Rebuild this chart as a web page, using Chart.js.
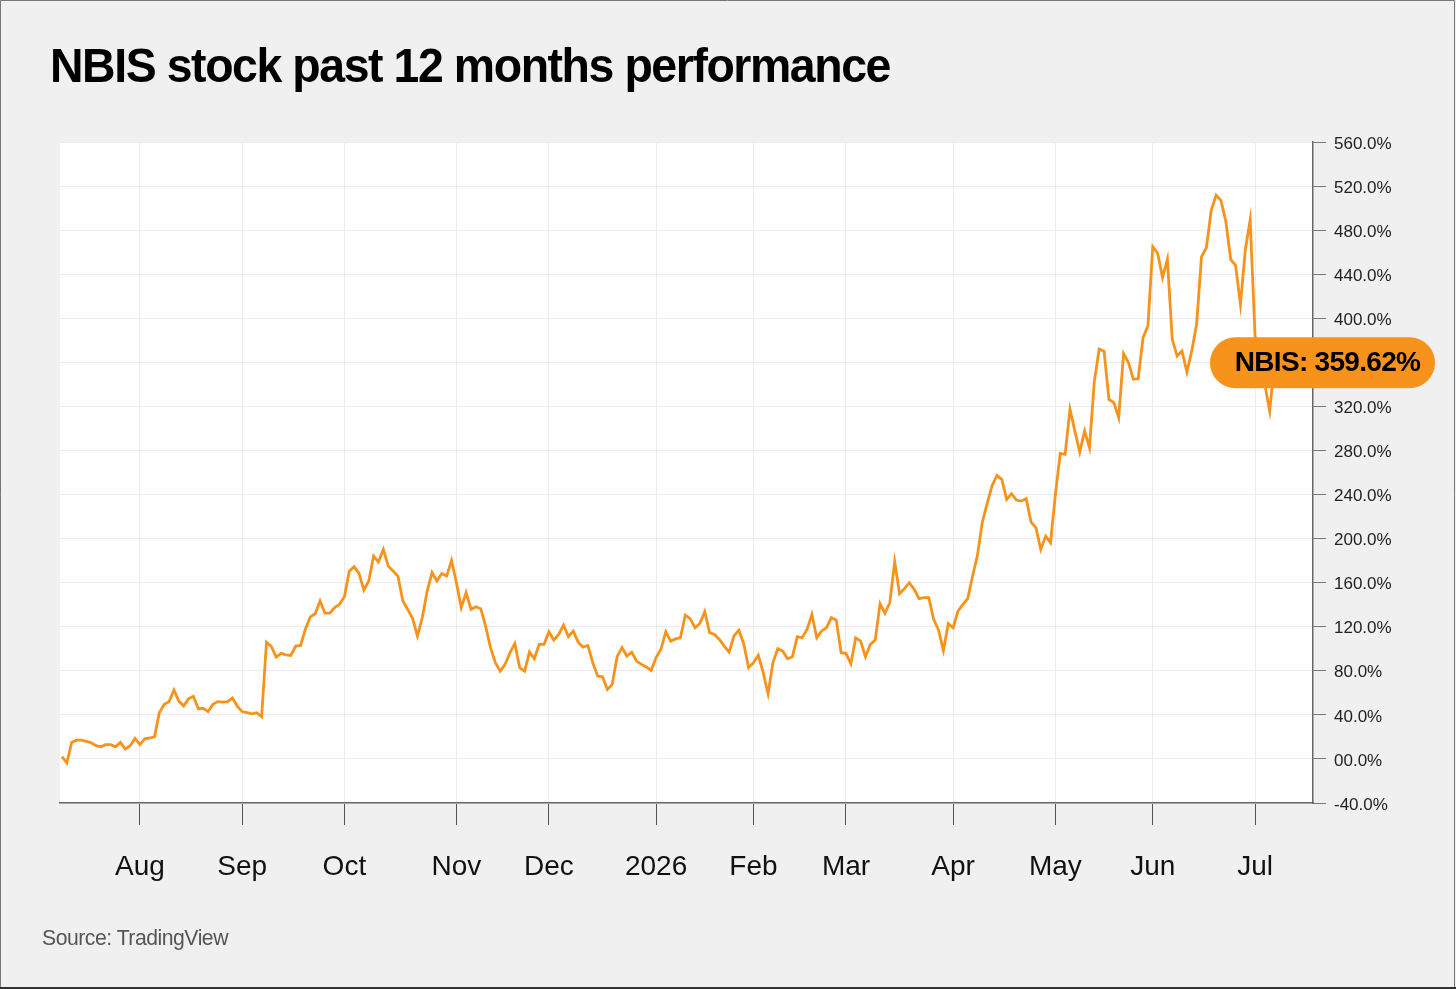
<!DOCTYPE html>
<html>
<head>
<meta charset="utf-8">
<script src="https://cdn.jsdelivr.net/npm/chart.js@4.4.1/dist/chart.umd.min.js"></script>
<style>
  html, body { margin: 0; padding: 0; background: #f0f0f0; }
  #wrap { position: relative; width: 1456px; height: 989px; overflow: hidden; }
  #title {
    position: absolute; left: 50px; top: 41px;
    font: bold 49px/49px "Liberation Sans", Arial, sans-serif;
    color: #000; white-space: nowrap; transform-origin: left top; letter-spacing: -1.5px;
  }
  #source {
    position: absolute; left: 42px; top: 927px;
    font: 22px/22px "Liberation Sans", Arial, sans-serif;
    color: #555; white-space: nowrap; transform-origin: left top; letter-spacing: -0.5px;
  }
  canvas { position: absolute; left: 0; top: 0; }
</style>
</head>
<body>
<div id="wrap">
  <canvas id="chart" width="1456" height="989"></canvas>
  <div id="title">NBIS stock past 12 months performance</div>
  <div id="source">Source: TradingView</div>
</div>
<script>
// one value per trading day, % change since start
const perf = [
  2, -3.5, 15, 17, 17, 16, 14.7, 12, 11, 13,
  13, 11, 15, 9, 12, 18.6, 13, 18.3, 19, 20,
  42, 49.5, 52, 62.5, 52.5, 48, 54.7, 56.8, 45.6, 46,
  43, 49.5, 52, 51.5, 52, 55.2, 48, 43, 42, 41,
  42, 38.3, 106, 102, 92.5, 95.8, 94.5, 94, 102.4, 103,
  118, 129, 131.8, 143.3, 132.3, 132.3, 137.3, 140.3, 147.3, 170.5,
  174.5, 168.4, 153.3, 161.5, 184.2, 178.7, 190.2, 175, 170.5, 166,
  143.3, 135.7, 127.6, 111.5, 128.4, 152.4, 169.2, 161.5, 168.3, 166,
  180.2, 160, 137.3, 151, 135.8, 138.2, 136.4, 120.6, 101, 87.4,
  79.7, 85.8, 96.4, 104.9, 82.8, 79.7, 97, 91, 104, 104,
  115.5, 107.9, 113, 121.5, 111, 116, 106, 101.5, 103, 87.4,
  75.2, 74.6, 63, 67.6, 92.8, 101, 93.4, 97, 88.8, 85.8,
  83.4, 80.4, 92, 99.5, 115.5, 107, 109, 110, 130.6, 127.3,
  119.1, 123, 133.7, 114.6, 113, 108.5, 102.4, 97, 111.7, 116.8,
  104.6, 82.8, 87.4, 94, 78.3, 59.2, 87.4, 100, 97.9, 91,
  92.8, 111, 110, 117.6, 131.2, 110, 116.2, 119.1, 128.2, 126,
  96.4, 95.8, 86.4, 110, 107, 92.8, 104, 107.9, 141, 132.2,
  141.8, 179, 150, 154.6, 160, 154, 145.5, 146.4, 146.4, 126.7,
  117, 98.5, 122.8, 119.1, 134.2, 140.3, 145.5, 166, 185, 215,
  232, 248, 257.4, 253.8, 235.6, 240.8, 235, 234, 236.3, 215,
  209.9, 190.2, 202.3, 196.3, 240, 277.4, 276.5, 317.4, 297.6, 278.6,
  297.6, 282.6, 343, 372, 370, 326.4, 323.4, 309.8, 368, 359.8,
  344.6, 345.2, 382.4, 393, 465, 459, 436.9, 453.5, 380.9, 365.7,
  370.3, 351.2, 370.3, 394.6, 455.7, 464, 498, 511.7, 507, 488,
  453.5, 448, 412.7, 462, 489.4, 384, 365, 340, 315.8, 359.62
];

// trading-day index of the first session of each month
const monthTicks = [16, 37, 58, 81, 100, 122, 142, 161, 183, 204, 224, 245];
const monthLabels = ["Aug", "Sep", "Oct", "Nov", "Dec", "2026", "Feb", "Mar", "Apr", "May", "Jun", "Jul"];

const lastValue = 359.62;
const lastLabel = "NBIS: 359.62%";

const orange = "#f7931a";

// fit the html texts to the widths in the picture
const fitText = (el, target) => {
  const w = el.getBoundingClientRect().width;
  el.style.transform = "scaleX(" + (target / w) + ")";
};
fitText(document.getElementById("title"), 840);
fitText(document.getElementById("source"), 186);

const plotBg = {
  id: "plotBg",
  beforeDraw: (chart) => {
    const { ctx, chartArea } = chart;
    ctx.save();
    ctx.fillStyle = "#ffffff";
    ctx.fillRect(chartArea.left, chartArea.top, chartArea.right - chartArea.left, chartArea.bottom - chartArea.top);
    ctx.restore();
  },
};

const lastBadge = {
  id: "lastBadge",
  afterDraw: (chart) => {
    const { ctx, chartArea } = chart;
    const y = chart.scales.y.getPixelForValue(lastValue);
    const left = chartArea.right - 103;
    const w = 225;
    const h = 51;
    ctx.save();
    ctx.fillStyle = orange;
    ctx.beginPath();
    ctx.roundRect(left, y - h / 2, w, h, h / 2);
    ctx.fill();
    ctx.fillStyle = "#000";
    ctx.font = "bold 28px 'Liberation Sans', Arial, sans-serif";
    ctx.letterSpacing = "-0.7px";
    ctx.textBaseline = "middle";
    ctx.textAlign = "center";
    ctx.fillText(lastLabel, left + w / 2 + 5, y + 1);
    ctx.restore();

    // picture frame
    ctx.save();
    ctx.strokeStyle = "#777";
    ctx.lineWidth = 1;
    ctx.beginPath();
    ctx.moveTo(0.5, 988);
    ctx.lineTo(0.5, 0.5);
    ctx.lineTo(1454.5, 0.5);
    ctx.lineTo(1454.5, 988);
    ctx.stroke();
    ctx.strokeStyle = "#333";
    ctx.lineWidth = 2;
    ctx.beginPath();
    ctx.moveTo(0, 988);
    ctx.lineTo(1456, 988);
    ctx.stroke();
    ctx.restore();
  },
};

const ctx = document.getElementById("chart").getContext("2d");
const myChart = new Chart(ctx, {
  type: "line",
  data: {
    datasets: [
      {
        label: "NBIS",
        data: perf.map((v, i) => ({ x: i, y: v })),
        borderColor: orange,
        borderWidth: 2.8,
        pointRadius: 0,
        tension: 0,
      },
    ],
  },
  options: {
    responsive: false,
    animation: false,
    layout: { padding: { top: 142, left: 60, right: 0, bottom: 0 } },
    plugins: {
      legend: { display: false },
      tooltip: { enabled: false },
    },
    scales: {
      x: {
        type: "linear",
        min: -0.4,
        max: 256.9,
        afterBuildTicks: (axis) => {
          axis.ticks = monthTicks.map((v) => ({ value: v }));
        },
        afterFit: (axis) => {
          axis.height = 186;
        },
        ticks: {
          autoSkip: false,
          maxRotation: 0,
          padding: 25,
          color: "#111",
          font: { family: "'Liberation Sans', Arial, sans-serif", size: 28 },
          callback: (v) => monthLabels[monthTicks.indexOf(v)],
        },
        grid: { color: "#ececec", tickColor: "#555", tickLength: 22, lineWidth: 1 },
        border: { color: "#666", width: 1.5 },
      },
      y: {
        position: "right",
        min: -40,
        max: 560,
        afterFit: (axis) => {
          axis.width = 143;
        },
        ticks: {
          stepSize: 40,
          padding: 8,
          labelOffset: 2,
          color: "#222",
          font: { family: "'Liberation Sans', Arial, sans-serif", size: 17 },
          callback: (v) => (v === 0 ? "00.0%" : v.toFixed(1) + "%"),
        },
        grid: { color: "#ececec", tickColor: "#777", tickLength: 13, lineWidth: 1 },
        border: { color: "#666", width: 1.5 },
      },
    },
  },
  plugins: [plotBg, lastBadge],
});
</script>
</body>
</html>
